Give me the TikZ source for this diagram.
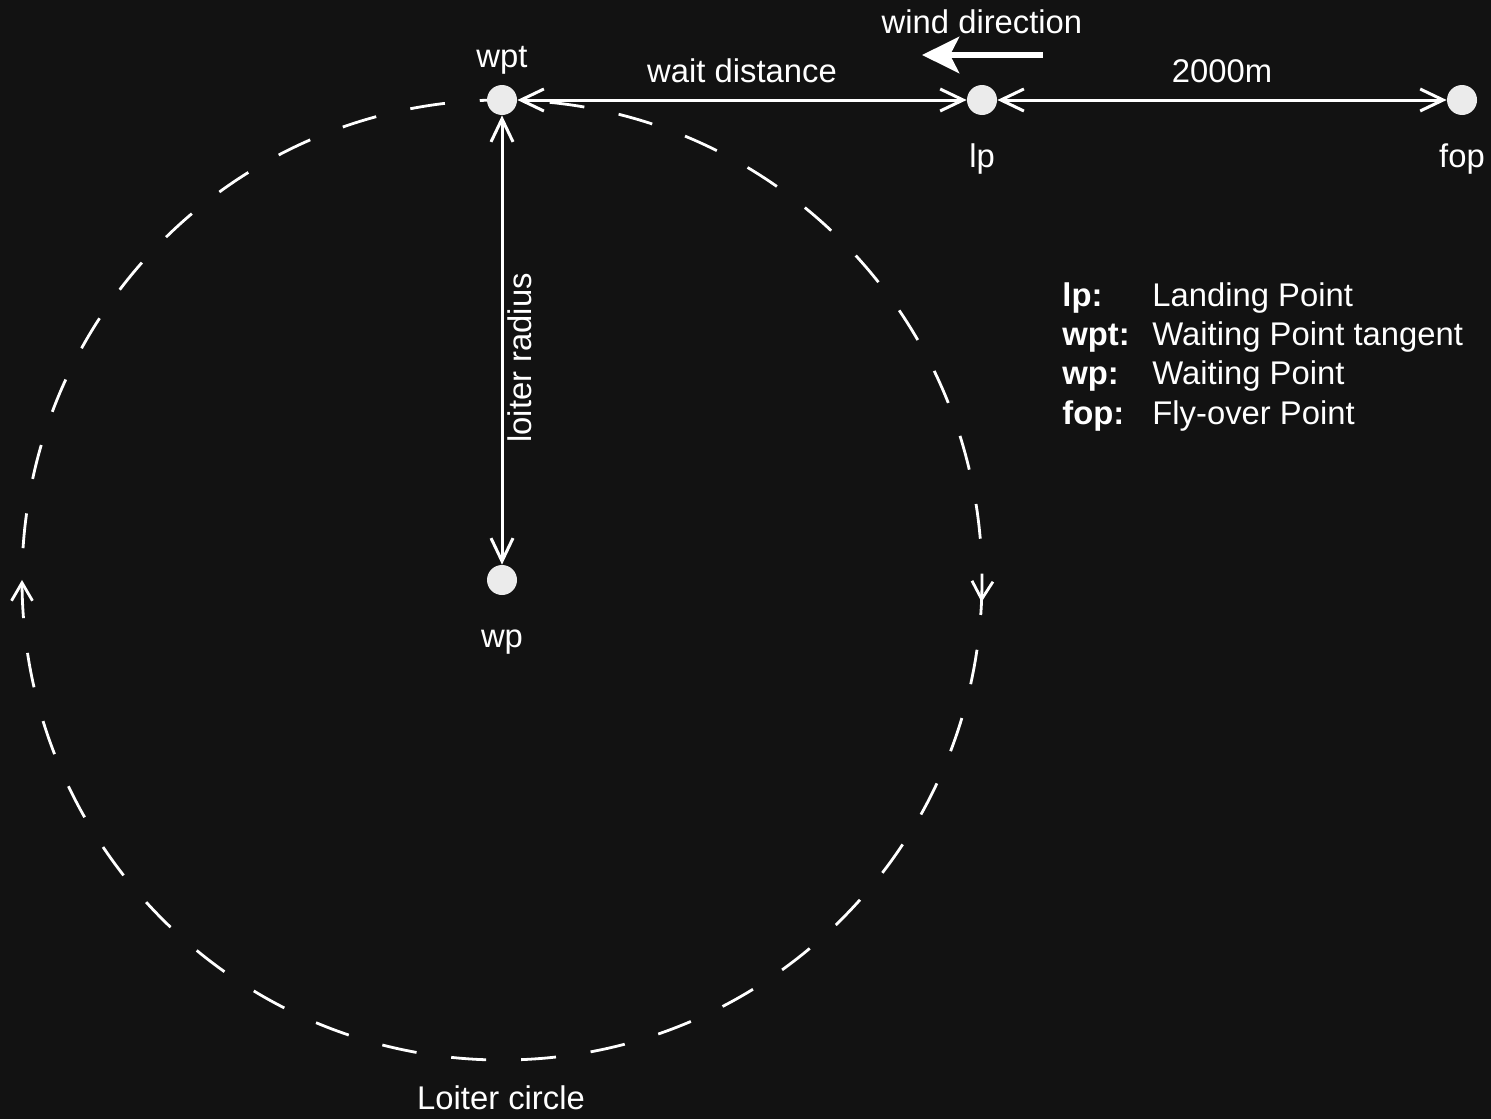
\documentclass[tikz,border=0pt]{standalone}
\usepackage{fontspec}
\setmainfont{Liberation Sans}
\usepackage{tikz}
\usetikzlibrary{arrows.meta,positioning,backgrounds,decorations.markings}
\definecolor{LoiterBg}{HTML}{121212}
\definecolor{LoiterDot}{HTML}{EBEBEB}
\definecolor{LoiterInk}{HTML}{FFFFFF}

\begin{document}
\begin{tikzpicture}[x=0.5pt, y=-0.5pt,
  every node/.style={font=\fontsize{16.4}{19.7}\selectfont, text=LoiterInk, inner sep=0pt},
  dot/.style={circle, fill=LoiterDot, minimum size=15pt},
  lbl/.style={text height=11.8pt, text depth=0pt},
  dimline/.style={draw=LoiterInk, line width=1.5pt, {Straight Barb[length=11.5pt, width=11pt]}-{Straight Barb[length=11.5pt, width=11pt]}},
  wind/.style={draw=LoiterInk, line width=3.3pt, -{Stealth[length=18.5pt, width=18pt, inset=4.5pt]}},
  loiter/.style={draw=LoiterInk, line width=1.4pt, dash pattern=on 17.5pt off 17.5pt, postaction={decorate, solid},
    decoration={markings,
      mark=at position 0.0073 with {\arrow{Straight Barb[length=9pt, width=10.5pt]}},
      mark=at position 0.5 with {\arrow{Straight Barb[length=9pt, width=10.5pt]}}}}]
\node[dot] (wpt) at (502,100) {};
\node[dot] (lp) at (982,100) {};
\node[dot] (fop) at (1462,100) {};
\node[dot] (wp) at (502,580) {};
\node[lbl, above=8.5pt of wpt] (wptlbl) {wpt};
\node[lbl, below=14pt of lp] (lplbl) {lp};
\node[lbl, below=14pt of fop] (foplbl) {fop};
\node[lbl, below=14pt of wp] (wplbl) {wp};
\draw[dimline] (wpt) -- node[lbl, above=8pt] (waitlbl) {wait distance} (lp);
\draw[dimline] (lp) -- node[lbl, above=8pt] (farlbl) {2000m} (fop);
\draw[dimline] (wpt) -- (wp);
\node[lbl, rotate=90, anchor=base] (radiuslbl) at (531,358) {loiter radius};
% wind
\coordinate (windtail) at (1043,55);
\coordinate (windtip) at (922,55);
\draw[wind] (windtail) -- (windtip);
\node[lbl, anchor=base] (windlbl) at (982,33) {wind direction};
\node[lbl, anchor=base] (circlelbl) at (501,1109) {Loiter circle};
% legend
\node[anchor=base west] (legend) at (1062,306) {\begin{tabular}[t]{@{}p{45pt}@{}l@{}}
\textbf{lp:} & Landing Point\\
\textbf{wpt:} & Waiting Point tangent\\
\textbf{wp:} & Waiting Point\\
\textbf{fop:} & Fly-over Point
\end{tabular}};
\begin{scope}[on background layer]
\fill[LoiterBg] (0,0) rectangle (1491,1119);
\draw[loiter] (wp.center) circle[radius=480];
\end{scope}
\end{tikzpicture}
\end{document}
